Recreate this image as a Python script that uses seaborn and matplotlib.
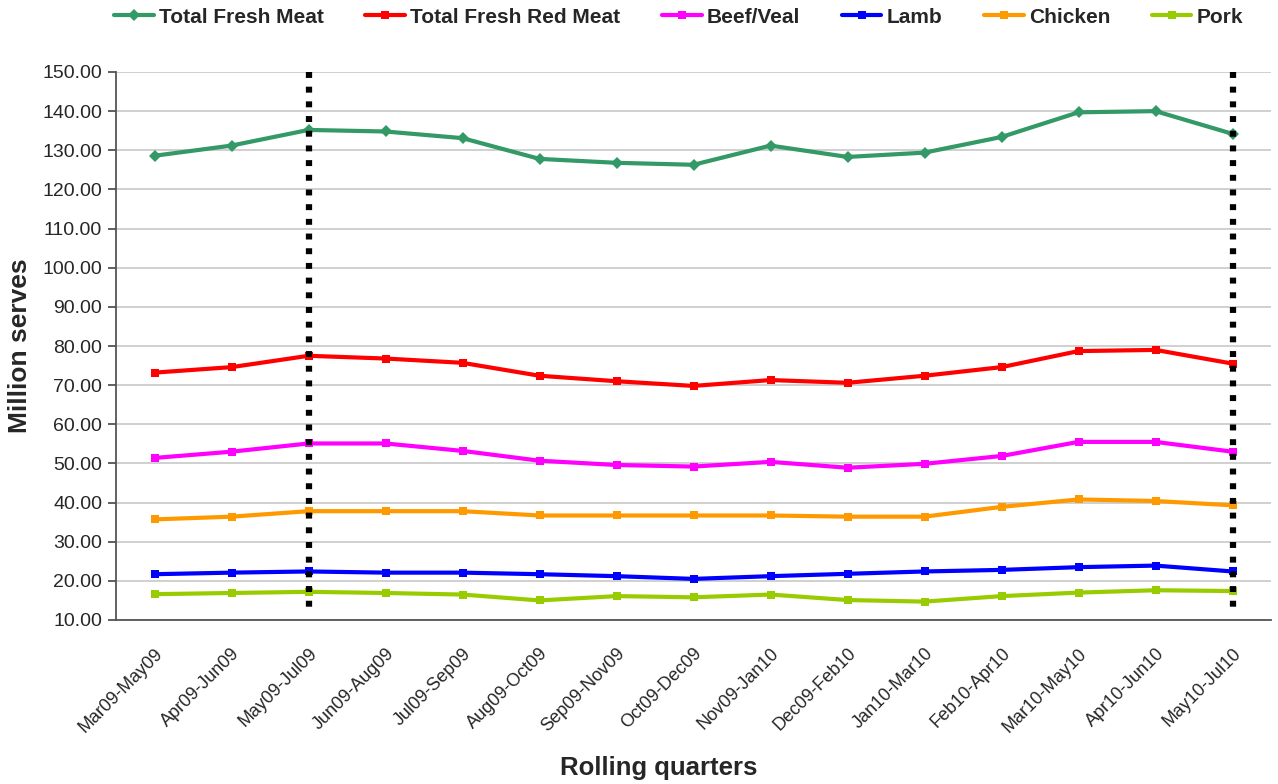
import numpy as np
import pandas as pd
import matplotlib
matplotlib.use("Agg")
import matplotlib.pyplot as plt
from matplotlib.ticker import FormatStrFormatter, FixedLocator
import seaborn as sns

quarters = ["Mar09-May09", "Apr09-Jun09", "May09-Jul09", "Jun09-Aug09", "Jul09-Sep09",
            "Aug09-Oct09", "Sep09-Nov09", "Oct09-Dec09", "Nov09-Jan10", "Dec09-Feb10",
            "Jan10-Mar10", "Feb10-Apr10", "Mar10-May10", "Apr10-Jun10", "May10-Jul10"]

total_fresh_meat = [128.6, 131.2, 135.2, 134.8, 133.1, 127.8, 126.8, 126.3,
                    131.2, 128.3, 129.4, 133.4, 139.7, 140.0, 134.2]
total_fresh_red_meat = [73.2, 74.6, 77.5, 76.8, 75.7, 72.4, 71.0, 69.8,
                        71.3, 70.6, 72.4, 74.6, 78.7, 79.0, 75.5]
beef_veal = [51.4, 53.0, 55.1, 55.1, 53.2, 50.7, 49.6, 49.2,
             50.4, 48.9, 49.9, 51.9, 55.5, 55.5, 53.0]
lamb = [21.7, 22.1, 22.4, 22.1, 22.1, 21.7, 21.2, 20.5,
        21.2, 21.8, 22.4, 22.8, 23.5, 23.9, 22.4]
chicken = [35.7, 36.4, 37.8, 37.8, 37.8, 36.7, 36.7, 36.7,
           36.7, 36.4, 36.4, 38.9, 40.8, 40.4, 39.3]
pork = [16.6, 16.9, 17.2, 16.9, 16.5, 15.0, 16.1, 15.8,
        16.5, 15.1, 14.7, 16.1, 17.0, 17.6, 17.4]

series_names = ["Total Fresh Meat", "Total Fresh Red Meat", "Beef/Veal", "Lamb", "Chicken", "Pork"]
series_values = [total_fresh_meat, total_fresh_red_meat, beef_veal, lamb, chicken, pork]
series_colors = ["#339966", "#FF0000", "#FF00FF", "#0000FF", "#FF9900", "#99CC00"]
series_markers = ["D", "s", "s", "s", "s", "s"]

# quarters where the dotted reference lines are drawn
marker_quarters = ["May09-Jul09", "May10-Jul10"]

rows = []
for name, vals in zip(series_names, series_values):
    for i, (q, v) in enumerate(zip(quarters, vals)):
        rows.append({"pos": i, "quarter": q, "series": name, "value": v})
df = pd.DataFrame(rows)

sns.set_theme(style="white")
plt.rcParams["font.family"] = ["Liberation Sans", "DejaVu Sans"]

fig = plt.figure(figsize=(12.78, 7.84), dpi=100)
ax = fig.add_axes([116 / 1278, 1 - 620 / 784, (1271 - 116) / 1278, (620 - 72) / 784])

sns.lineplot(data=df, x="pos", y="value", hue="series", style="series",
             hue_order=series_names, style_order=series_names,
             palette=dict(zip(series_names, series_colors)),
             markers=dict(zip(series_names, series_markers)),
             dashes=False, linewidth=3.0, markersize=6.3, markeredgewidth=0,
             ax=ax, legend=True, zorder=3)

ymin, ymax = 10, 150
ax.set_ylim(ymin, ymax)
ax.set_xlim(-0.5, len(quarters) - 0.5)

# dotted markers drawn from the top down so the pattern starts at the top edge
for q in marker_quarters:
    xi = quarters.index(q)
    ax.plot([xi, xi], [ymax, ymin + 1.2], color="black", linewidth=4.5,
            linestyle=(0, (0.95, 1.4)), zorder=4, solid_capstyle="butt",
            dash_capstyle="butt", clip_on=False)

ax.yaxis.set_major_locator(FixedLocator(np.arange(ymin, ymax + 1, 10)))
ax.yaxis.set_major_formatter(FormatStrFormatter("%.2f"))
ax.grid(axis="y", color="#c8c8c8", linewidth=1.2)
ax.set_axisbelow(True)

ax.set_xticks(np.arange(len(quarters)))
ax.set_xticklabels(quarters, rotation=45, ha="right", rotation_mode="anchor", fontsize=13)
ax.set_xticks(np.arange(len(quarters) + 1) - 0.5, minor=True)
ax.tick_params(axis="x", which="major", length=0, pad=18)
ax.tick_params(axis="x", which="minor", length=6, width=1.2, color="#444444", direction="out")
ax.tick_params(axis="y", which="major", length=6, width=1.2, color="#444444",
               direction="out", labelsize=14, pad=4, left=True)

for side in ["top", "right"]:
    ax.spines[side].set_visible(False)
for side in ["left", "bottom"]:
    ax.spines[side].set_color("#555555")
    ax.spines[side].set_linewidth(1.3)

ax.set_xlabel("Rolling quarters", fontsize=18.5, fontweight="bold")
ax.set_ylabel("Million serves", fontsize=19, fontweight="bold")
ax.xaxis.set_label_coords(0.47, -0.248)
ax.yaxis.set_label_coords(-0.073, 0.5)

handles, labels = ax.get_legend_handles_labels()
ax.get_legend().remove()
fig.legend(handles, labels, loc="upper center", bbox_to_anchor=(0.531, 1.014), ncol=6,
           frameon=False, prop={"weight": "bold", "size": 15}, handlelength=1.9,
           handletextpad=0.25, columnspacing=2.0)

fig.savefig("out.png", dpi=100)
